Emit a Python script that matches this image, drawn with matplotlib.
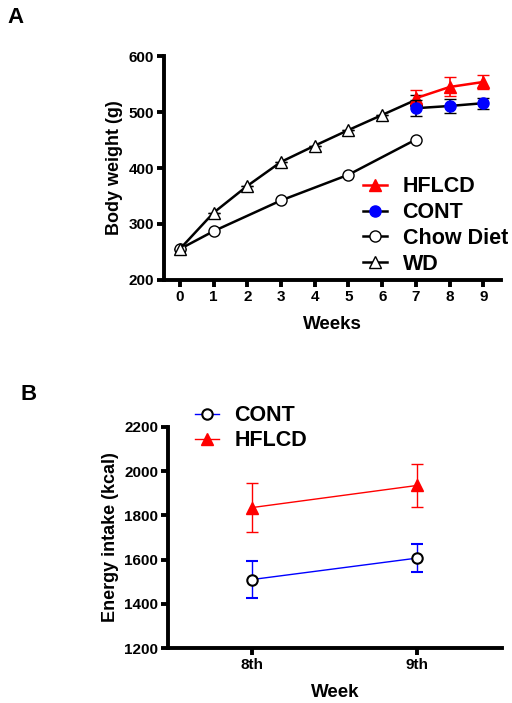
import matplotlib
matplotlib.use("Agg")
import matplotlib.pyplot as plt
from matplotlib.lines import Line2D

plt.rcParams['font.family'] = ['Liberation Sans', 'DejaVu Sans']
plt.rcParams['font.weight'] = 'bold'

# panel A data
wd_weeks = [0, 1, 2, 3, 4, 5, 6, 7]
wd_weight = [255, 320, 368, 411, 440, 468, 495, 522]
wd_err = [0, 0, 0, 0, 0, 0, 0, 9]
chow_weeks = [0, 1, 3, 5, 7]
chow_weight = [255, 287, 342, 388, 451]
hf_weeks = [7, 8, 9]
hf_weight = [525, 545, 554]
hf_err = [14, 17, 13]
cont_weeks = [7, 8, 9]
cont_weight = [507, 511, 516]
cont_err = [14, 12, 10]

# panel B data
b_weeks = [8, 9]
b_labels = ['8th', '9th']
b_cont = [1510, 1607]
b_cont_err = [85, 65]
b_hf = [1835, 1935]
b_hf_err = [110, 97]

W, H = 512, 703
fig = plt.figure(figsize=(5.12, 7.03), dpi=100)

def style(ax):
    for s in ['top', 'right']:
        ax.spines[s].set_visible(False)
    for s in ['left', 'bottom']:
        ax.spines[s].set_linewidth(2.8)
    ax.tick_params(width=2.8, length=5, labelsize=11, pad=2)
    for lab in ax.get_xticklabels() + ax.get_yticklabels():
        lab.set_fontweight('bold')

# ---- A
ax = fig.add_axes([0.320, 0.602, 0.659, 0.318])
ax.errorbar(wd_weeks, wd_weight, yerr=wd_err, color='black', marker='^', ms=8,
            mfc='white', lw=1.8, mew=1, capsize=4, elinewidth=1.2, zorder=3)
ax.plot(chow_weeks, chow_weight, color='black', marker='o', ms=8, mfc='white',
        lw=1.8, mew=1, zorder=3)
ax.errorbar(hf_weeks, hf_weight, yerr=hf_err, color='red', marker='^', ms=8,
            lw=1.8, capsize=4, elinewidth=1.2, zorder=4)
ax.errorbar(cont_weeks, cont_weight, yerr=cont_err, color='black', marker='o', ms=8,
            mfc='blue', mec='blue', lw=1.8, capsize=4, elinewidth=1.2, zorder=5)
ax.set_xlim(-0.475, 9.53)
ax.set_ylim(200, 600)
ax.set_xticks(range(10))
ax.set_yticks([200, 300, 400, 500, 600])
ax.set_xlabel('Weeks', fontsize=13.5, fontweight='bold', labelpad=9)
ax.set_ylabel('Body weight (g)', fontsize=13, fontweight='bold', labelpad=4)
style(ax)
handles_a = [
    Line2D([], [], color='red', marker='^', ms=8, lw=1.8),
    Line2D([], [], color='black', marker='o', ms=8, mfc='blue', mec='blue', lw=1.8),
    Line2D([], [], color='black', marker='o', ms=8, mfc='white', lw=1.8, mew=1),
    Line2D([], [], color='black', marker='^', ms=8, mfc='white', lw=1.8, mew=1),
]
leg = fig.legend(handles_a, ['HFLCD', 'CONT', 'Chow Diet', 'WD'], loc='upper left',
                 bbox_to_anchor=(344 / W, 1 - 157 / H), frameon=False,
                 fontsize=15.5, handlelength=1.12, handletextpad=0.7, labelspacing=0.22)
for t in leg.get_texts():
    t.set_fontweight('bold')
fig.text(7 / W, 1 - 7 / H, 'A', fontsize=16, fontweight='bold', va='top')

# ---- B
bx = fig.add_axes([0.328, 0.078, 0.652, 0.315])
bx.errorbar(b_weeks, b_cont, yerr=b_cont_err, color='blue', marker='o', ms=7.5,
            mfc='white', mec='black', mew=1.5, lw=1, capsize=4, elinewidth=1)
bx.errorbar(b_weeks, b_hf, yerr=b_hf_err, color='red', marker='^', ms=9,
            lw=1, capsize=4, elinewidth=1)
bx.set_xlim(7.49, 9.51)
bx.set_ylim(1200, 2200)
bx.set_xticks(b_weeks)
bx.set_xticklabels(b_labels)
bx.set_yticks([1200, 1400, 1600, 1800, 2000, 2200])
bx.set_xlabel('Week', fontsize=13.5, fontweight='bold', labelpad=9)
bx.set_ylabel('Energy intake (kcal)', fontsize=13, fontweight='bold', labelpad=4)
style(bx)
handles_b = [
    Line2D([], [], color='blue', marker='o', ms=7.5, mfc='white', mec='black', mew=1.5, lw=1),
    Line2D([], [], color='red', marker='^', ms=9, lw=1),
]
leg2 = fig.legend(handles_b, ['CONT', 'HFLCD'], loc='upper left',
                  bbox_to_anchor=(176 / W, 1 - 386 / H), frameon=False,
                  fontsize=15.5, handlelength=1.12, handletextpad=0.7, labelspacing=0.18)
for t in leg2.get_texts():
    t.set_fontweight('bold')
fig.text(20 / W, 1 - 384 / H, 'B', fontsize=16, fontweight='bold', va='top')

fig.savefig('out.png', dpi=100)
